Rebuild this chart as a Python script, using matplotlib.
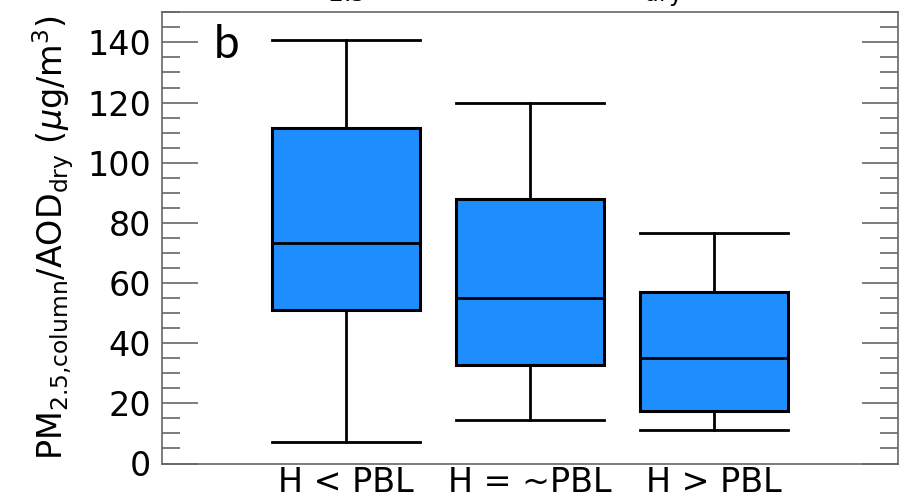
import matplotlib
matplotlib.use('Agg')
import matplotlib.pyplot as plt
from matplotlib.ticker import MultipleLocator

# Box statistics for each smoke-height class
categories = ['H < PBL', 'H = ~PBL', 'H > PBL']
whis_low = [7.2, 14.3, 11.2]
q1 = [51.1, 32.8, 17.4]
median = [73.3, 54.9, 35.0]
q3 = [111.7, 88.0, 56.9]
whis_high = [140.9, 119.7, 76.7]

stats = []
for i, name in enumerate(categories):
    stats.append(dict(label=name, whislo=whis_low[i], q1=q1[i], med=median[i],
                      q3=q3[i], whishi=whis_high[i], fliers=[]))

fig = plt.figure(figsize=(8.99, 5.01), dpi=100)
ax = fig.add_axes([162 / 899, (501 - 463.5) / 501, (898 - 162) / 899, (463.5 - 12.3) / 501])

black = dict(color='black', linewidth=2)
ax.bxp(stats, positions=[1, 2, 3], widths=0.8, capwidths=0.8, patch_artist=True,
       showfliers=False,
       boxprops=dict(facecolor='#1E8EFF', edgecolor='black', linewidth=2.2),
       medianprops=black, whiskerprops=black, capprops=black)

ax.set_xlim(0, 4)
ax.set_ylim(0, 150)
ax.yaxis.set_minor_locator(MultipleLocator(5))
ax.set_yticks([0, 20, 40, 60, 80, 100, 120, 140])
ax.tick_params(axis='y', which='major', direction='in', length=26, width=1.2,
               color='#666666', left=True, right=True, labelsize=24, pad=8)
ax.tick_params(axis='y', which='minor', direction='in', length=13, width=1.2,
               color='#666666', left=True, right=True)
ax.tick_params(axis='x', length=0, labelsize=24, pad=2)
for sp in ax.spines.values():
    sp.set_color('#666666')
    sp.set_linewidth(1.2)

ax.set_ylabel(r'PM$_{\rm 2.5{,}column}$/AOD$_{\rm dry}$ ($\mu$g/m$^3$)', fontsize=24, labelpad=8)
ax.text(0.28, 134.8, 'b', fontsize=33, family='Lato', va='baseline')

# panel title sits mostly above the saved area
fig.text(0.310, 1.0078, r'PM$_{\rm 2.5}$ column vs. AOD$_{\rm dry}$', fontsize=24, va='baseline')

fig.savefig('out.png', dpi=100)
